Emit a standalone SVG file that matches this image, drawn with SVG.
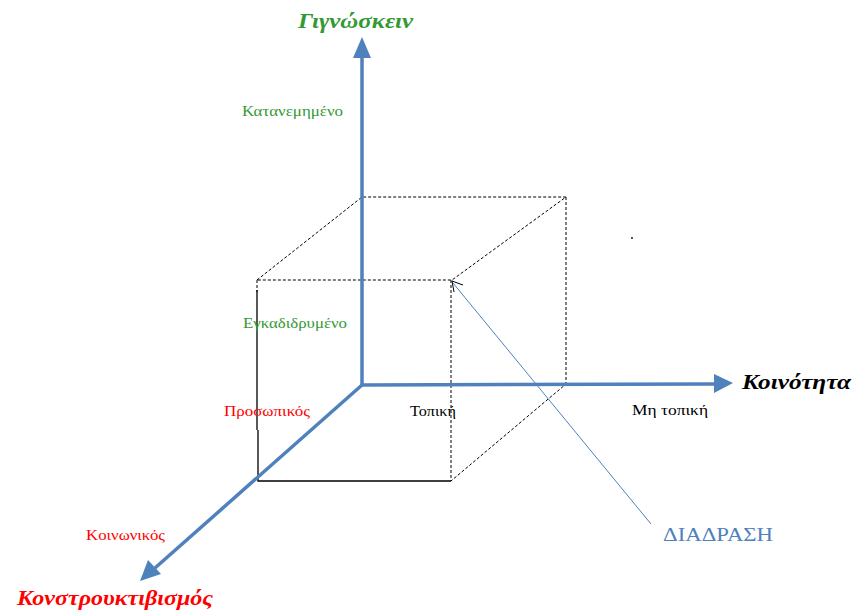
<svg xmlns="http://www.w3.org/2000/svg" width="852" height="610" viewBox="0 0 852 610">
<style>
.ax{stroke:#4f81bd;stroke-width:3.5;fill:none}
.ah{fill:#4f81bd}
.dash{stroke:#000;stroke-width:1;stroke-dasharray:3 2;fill:none}
.sol{stroke:#000;stroke-width:1.3;fill:none}
.t{font-family:"Liberation Serif",serif}
.title{font-size:22px;font-weight:bold;font-style:italic}
.sm{font-size:14px}
.g{fill:#339933}
.r{fill:#ff0000}
.k{fill:#000}
</style>
<rect width="852" height="610" fill="#fff"/>
<g id="connectors">
<path class="dash" d="M257,280 L362,197 L566,197 L452,280 Z"/>
<path class="dash" d="M566,197 L566,384 M451,280 L451,481 L566,384 M257,280 L257,292"/>
<path class="sol" d="M257,290 L257,430 M258,430 L258,481 L451,481"/>
<line class="ax" x1="362" y1="385" x2="362" y2="58"/>
<polygon class="ah" points="362,37 353,58 371,58"/>
<line class="ax" x1="362" y1="385" x2="714" y2="384"/>
<polygon class="ah" points="733,383 714,374 714,393"/>
<line class="ax" x1="362" y1="385" x2="155" y2="568"/>
<polygon class="ah" points="140,581 148,560 161,574"/>
<line x1="651" y1="524" x2="453" y2="283" stroke="#4f81bd" stroke-width="1"/>
<path d="M463,285 L452,281 L454,292" stroke="#000" stroke-width="1" fill="none"/>
<circle cx="632" cy="238" r="0.9" fill="#000"/>
</g>
<g id="axis-knowing"><text class="t title g" x="298" y="28" textLength="115" lengthAdjust="spacingAndGlyphs">Γιγνώσκειν</text></g>
<g id="axis-community"><text class="t title k" x="742" y="389" textLength="109" lengthAdjust="spacingAndGlyphs">Κοινότητα</text></g>
<g id="axis-constructivism"><text class="t title r" x="17" y="605" textLength="196" lengthAdjust="spacingAndGlyphs">Κονστρουκτιβισμός</text></g>
<g id="label-distributed"><text class="t sm g" x="242" y="116" textLength="101" lengthAdjust="spacingAndGlyphs">Κατανεμημένο</text></g>
<g id="label-embedded"><text class="t sm g" x="243" y="328" textLength="104" lengthAdjust="spacingAndGlyphs">Εγκαδιδρυμένο</text></g>
<g id="label-personal"><text class="t sm r" x="224" y="416" textLength="86" lengthAdjust="spacingAndGlyphs">Προσωπικός</text></g>
<g id="label-local"><text class="t sm k" x="410" y="416" textLength="46" lengthAdjust="spacingAndGlyphs">Τοπική</text></g>
<g id="label-nonlocal"><text class="t sm k" x="632" y="415" textLength="76" lengthAdjust="spacingAndGlyphs">Μη τοπική</text></g>
<g id="label-social"><text class="t sm r" x="86" y="540" textLength="79" lengthAdjust="spacingAndGlyphs">Κοινωνικός</text></g>
<g id="label-interaction"><text class="t" x="663" y="541" font-size="19" fill="#4f81bd" textLength="110" lengthAdjust="spacingAndGlyphs">ΔΙΑΔΡΑΣΗ</text></g>
</svg>
